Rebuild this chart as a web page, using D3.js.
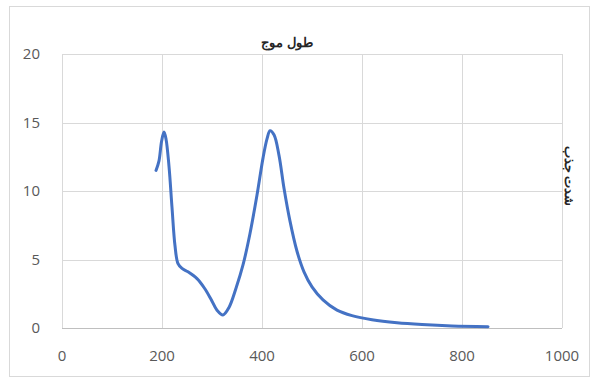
<!DOCTYPE html>
<html>
<head>
<meta charset="utf-8">
<script src="https://cdn.jsdelivr.net/npm/d3@7"></script>
<style>
  body { margin: 0; background: #fff; }
  svg text { font-family: "Open Sans", "Liberation Sans", sans-serif; }
</style>
</head>
<body>
<div id="main"></div>
<script>
// wavelength (nm) and absorbance
var wavelength = [188, 194, 199, 204, 208, 214, 220, 226, 232, 240, 252, 270, 285, 298, 310, 322, 334, 348, 362, 376, 390, 402, 410, 416, 424, 434, 444, 456, 470, 484, 500, 522, 550, 580, 620, 670, 720, 780, 852];
var absorbance = [11.5, 12.2, 13.6, 14.3, 13.8, 11.8, 8.8, 6.0, 4.7, 4.35, 4.1, 3.6, 2.9, 2.1, 1.3, 0.95, 1.5, 2.9, 4.6, 6.9, 9.7, 12.4, 13.8, 14.4, 14.1, 12.6, 10.2, 7.8, 5.6, 4.1, 3.0, 2.05, 1.3, 0.9, 0.6, 0.38, 0.25, 0.15, 0.1];
var xTicks = [0, 200, 400, 600, 800, 1000];
var yTicks = [0, 5, 10, 15, 20];
var chartTitle = "طول موج";
var yTitle = "شدت جذب";

var outerWidth = 592, outerHeight = 378;
var marginLeft = 62, marginRight = 30, marginTop = 54, marginBottom = 50;
var innerWidth = outerWidth - marginLeft - marginRight;
var innerHeight = outerHeight - marginTop - marginBottom;

var data = wavelength.map((w, i) => ({ x: w, y: absorbance[i] }));

var xScale = d3.scaleLinear().domain([0, 1000]).range([0, innerWidth]);
var yScale = d3.scaleLinear().domain([0, 20]).range([innerHeight, 0]);

var svg = d3.select("#main")
    .append("svg")
    .attr("width", outerWidth)
    .attr("height", outerHeight);

// chart border
svg.append("rect")
    .attr("x", 9.5).attr("y", 6.5)
    .attr("width", 580).attr("height", 370)
    .attr("fill", "none")
    .attr("stroke", "#d9d9d9");

var g = svg.append("g")
    .attr("transform", "translate(" + marginLeft + "," + marginTop + ")");

// gridlines
g.selectAll(".hgrid").data(yTicks.filter(d => d > 0)).enter()
    .append("line")
    .attr("x1", 0).attr("x2", innerWidth)
    .attr("y1", d => Math.round(yScale(d)) + 0.5)
    .attr("y2", d => Math.round(yScale(d)) + 0.5)
    .attr("stroke", "#d9d9d9");

g.selectAll(".vgrid").data(xTicks).enter()
    .append("line")
    .attr("y1", 0).attr("y2", innerHeight)
    .attr("x1", d => Math.round(xScale(d)) + 0.5)
    .attr("x2", d => Math.round(xScale(d)) + 0.5)
    .attr("stroke", "#d9d9d9");

// x axis line
g.append("line")
    .attr("x1", 0).attr("x2", innerWidth)
    .attr("y1", innerHeight + 0.5).attr("y2", innerHeight + 0.5)
    .attr("stroke", "#bfbfbf");

// tick labels
g.selectAll(".ylab").data(yTicks).enter()
    .append("text")
    .attr("x", -22)
    .attr("y", d => yScale(d) + 5)
    .attr("text-anchor", "end")
    .attr("font-size", 15)
    .attr("fill", "#595959")
    .text(d => d);

g.selectAll(".xlab").data(xTicks).enter()
    .append("text")
    .attr("x", d => xScale(d))
    .attr("y", innerHeight + 33)
    .attr("text-anchor", "middle")
    .attr("font-size", 15)
    .attr("fill", "#595959")
    .text(d => d);

// titles
svg.append("text")
    .attr("x", 287)
    .attr("y", 47)
    .attr("text-anchor", "middle")
    .attr("font-size", 13)
    .attr("font-weight", "bold")
    .attr("fill", "#262626")
    .attr("direction", "rtl")
    .text(chartTitle);

svg.append("text")
    .attr("transform", "translate(565,176) rotate(90)")
    .attr("text-anchor", "middle")
    .attr("font-size", 13)
    .attr("font-weight", "bold")
    .attr("fill", "#262626")
    .attr("direction", "rtl")
    .text(yTitle);

// series
var line = d3.line()
    .x(d => xScale(d.x))
    .y(d => yScale(d.y))
    .curve(d3.curveCatmullRom.alpha(0.5));

g.append("path")
    .datum(data)
    .attr("d", line)
    .attr("fill", "none")
    .attr("stroke", "#4472C4")
    .attr("stroke-width", 3)
    .attr("stroke-linejoin", "round")
    .attr("stroke-linecap", "round");
</script>
</body>
</html>
